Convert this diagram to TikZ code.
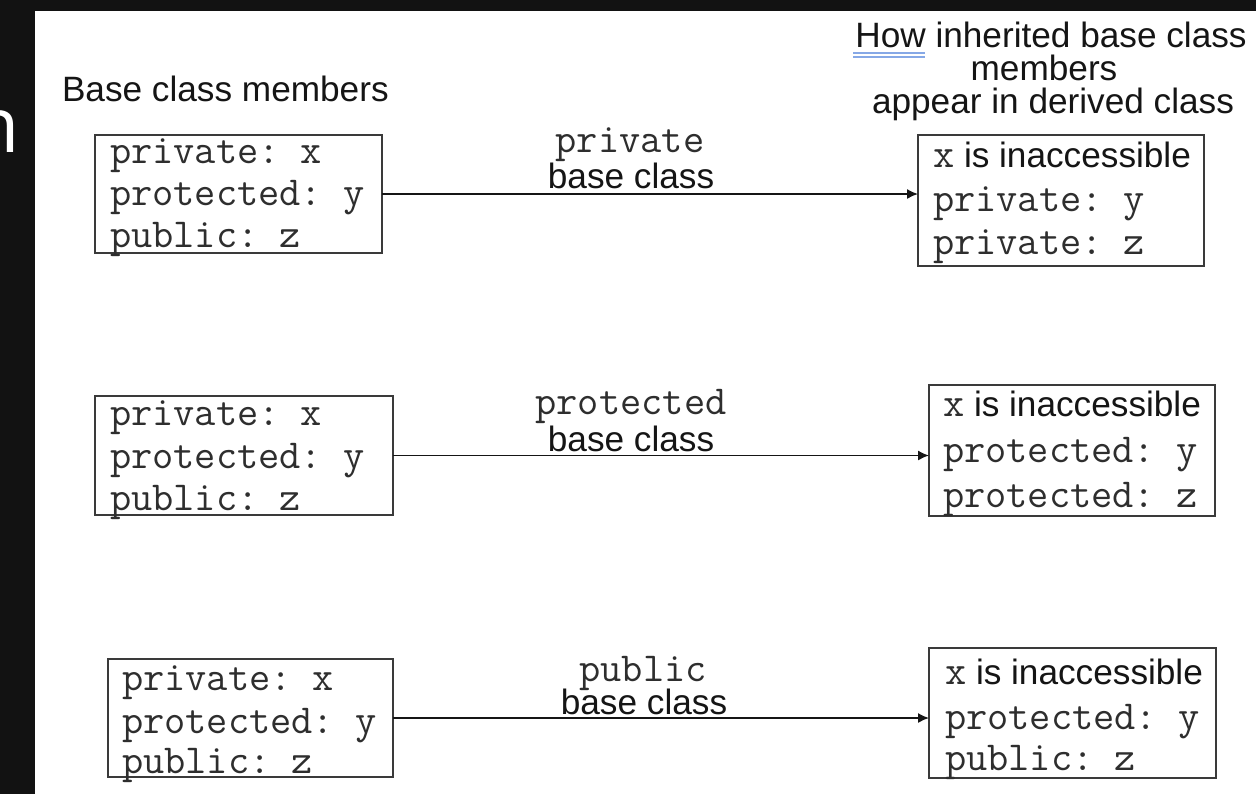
\documentclass[tikz,border=0pt]{standalone}
\usepackage{fontspec}
\setmainfont{Liberation Sans}
\newfontfamily\slidefont{Open Sans}
\usetikzlibrary{arrows.meta}
\definecolor{slidebg}{HTML}{121212}
\definecolor{frameink}{HTML}{3A3A3A}
\definecolor{textink}{HTML}{151515}
\definecolor{codeink}{HTML}{2E2E2E}
\definecolor{squiggle}{HTML}{86A8E6}

\begin{document}
\begin{tikzpicture}[x=0.5pt,y=-0.5pt,
  every node/.style={inner sep=0pt,outer sep=0pt,text=textink},
  txt/.style={font=\fontsize{17.6}{21}\selectfont},
  mono/.style={font=\fontsize{20.6}{24}\selectfont\ttfamily\frenchspacing,text=codeink},
  memberbox/.style={draw=frameink,line width=0.8pt,anchor=north west},
  arr/.style={draw=textink,line width=0.75pt,-{Latex[length=5.5pt,width=5pt]}},
]
\useasboundingbox (0,0) rectangle (1256,794);

% slide background and dark frame
\fill[white] (0,0) rectangle (1256,794);
\fill[slidebg] (0,0) rectangle (35,794);
\fill[slidebg] (0,0) rectangle (1256,11);
\begin{scope}
  \clip (0,11) rectangle (35,794);
  \node[anchor=base west,text=white,font=\fontsize{38.5}{40}\slidefont] (cut) at (-27,152) {n};
\end{scope}

% column headings
\node[txt,anchor=base west] (hbase) at (62,101) {Base class members};
\node[txt,anchor=base] (h1) at (1051,47) {How inherited base class};
\node[txt,anchor=base] (h2) at (1044,80) {members};
\node[txt,anchor=base] (h3) at (1053,113) {appear in derived class};
\draw[squiggle,line width=1pt] (853,52.5) -- (925,52.5);
\draw[squiggle,line width=1pt] (853,56.8) -- (925,56.8);

% ---- private inheritance ----
\node[memberbox,minimum width=143.5pt,minimum height=59pt] (b1) at (95,135) {};
\node[mono,anchor=base west] (b1a) at (110,163) {private: x};
\node[mono,anchor=base west] (b1b) at (110,205) {protected: y};
\node[mono,anchor=base west] (b1c) at (110,247) {public: z};

\node[memberbox,minimum width=143pt,minimum height=65.5pt] (d1) at (918,135) {};
\node[anchor=base west] (d1a) at (933,167) {\fontsize{20.6}{24}\selectfont\ttfamily\textcolor{codeink}{x}\fontsize{17.6}{21}\selectfont\rmfamily{} is inaccessible};
\node[mono,anchor=base west] (d1b) at (933,211) {private: y};
\node[mono,anchor=base west] (d1c) at (933,254) {private: z};

\node[mono,anchor=base] (l1a) at (630,152) {private};
\node[txt,anchor=base] (l1b) at (631,188) {base class};
\draw[arr] (b1.east) -- (b1.east -| d1.west);

% ---- protected inheritance ----
\node[memberbox,minimum width=149pt,minimum height=59.5pt] (b2) at (95,396) {};
\node[mono,anchor=base west] (b2a) at (110,425) {private: x};
\node[mono,anchor=base west] (b2b) at (110,468) {protected: y};
\node[mono,anchor=base west] (b2c) at (110,510) {public: z};

\node[memberbox,minimum width=143pt,minimum height=65.5pt] (d2) at (929,385) {};
\node[anchor=base west] (d2a) at (943,416) {\fontsize{20.6}{24}\selectfont\ttfamily\textcolor{codeink}{x}\fontsize{17.6}{21}\selectfont\rmfamily{} is inaccessible};
\node[mono,anchor=base west] (d2b) at (943,462) {protected: y};
\node[mono,anchor=base west] (d2c) at (943,507) {protected: z};

\node[mono,anchor=base] (l2a) at (631,414) {protected};
\node[txt,anchor=base] (l2b) at (631,451) {base class};
\draw[arr] (b2.east) -- (b2.east -| d2.west);

% ---- public inheritance ----
\node[memberbox,minimum width=142.5pt,minimum height=59pt] (b3) at (108,659) {};
\node[mono,anchor=base west] (b3a) at (122,690) {private: x};
\node[mono,anchor=base west] (b3b) at (122,733) {protected: y};
\node[mono,anchor=base west] (b3c) at (122,773) {public: z};

\node[memberbox,minimum width=143.5pt,minimum height=65pt] (d3) at (929,648) {};
\node[anchor=base west] (d3a) at (945,684) {\fontsize{20.6}{24}\selectfont\ttfamily\textcolor{codeink}{x}\fontsize{17.6}{21}\selectfont\rmfamily{} is inaccessible};
\node[mono,anchor=base west] (d3b) at (945,729) {protected: y};
\node[mono,anchor=base west] (d3c) at (945,770) {public: z};

\node[mono,anchor=base] (l3a) at (643,681) {public};
\node[txt,anchor=base] (l3b) at (644,714) {base class};
\draw[arr] (b3.east) -- (b3.east -| d3.west);
\end{tikzpicture}
\end{document}
